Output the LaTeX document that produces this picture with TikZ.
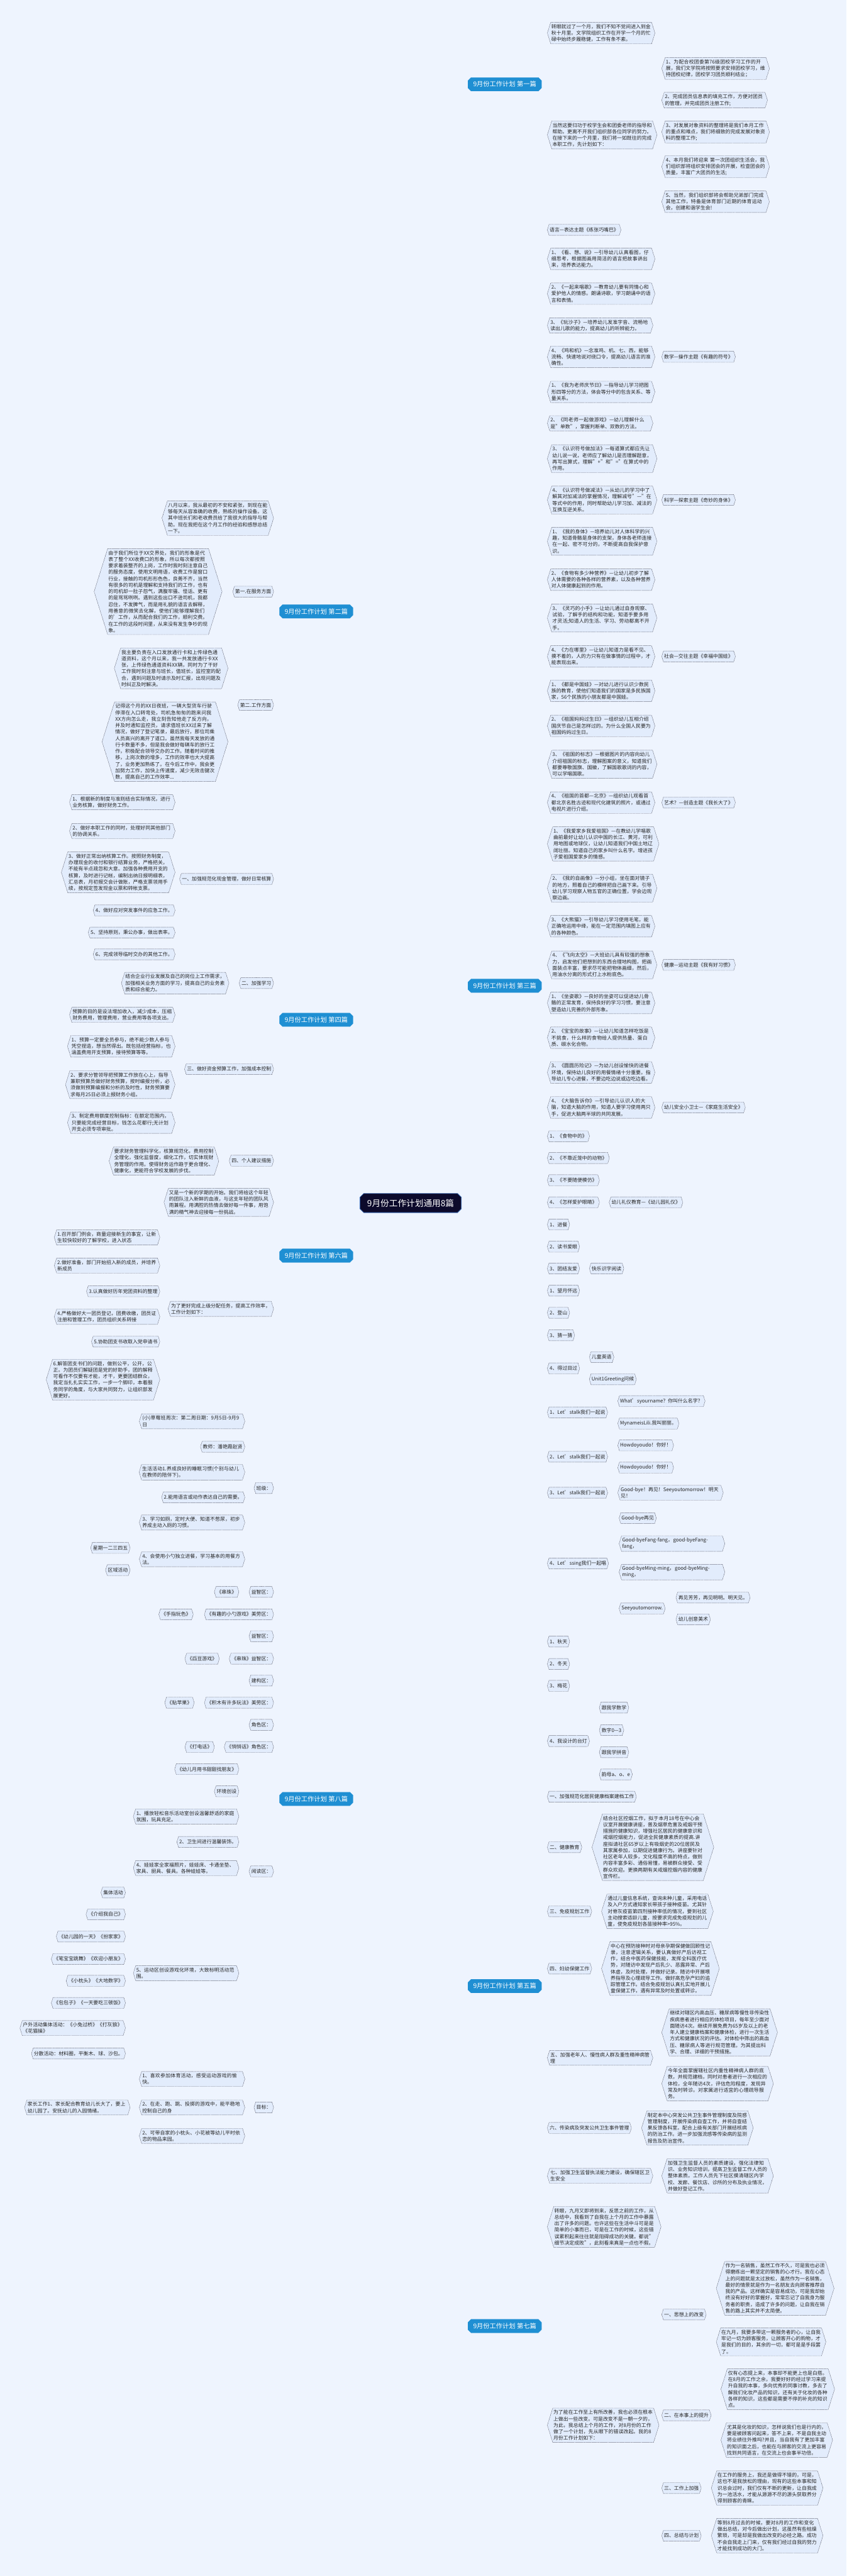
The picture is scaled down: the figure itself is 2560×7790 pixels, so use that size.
\documentclass[tikz,border=0pt]{standalone}
\usepackage{fontspec}
\setmainfont{Noto Sans CJK SC}
\usepackage{xcolor}
\definecolor{bgc}{HTML}{EEF4FE}
\definecolor{leafFill}{HTML}{E2ECFC}
\definecolor{leafLine}{HTML}{404050}
\definecolor{wireC}{HTML}{14122C}
\definecolor{partBlue}{HTML}{1F8FD3}
\definecolor{hubNavy}{HTML}{0C0A2B}
\definecolor{hubEdge}{HTML}{3F6FB8}
\usepackage{tikz}
\usetikzlibrary{%
    shapes.symbols,
    shapes.misc,
    backgrounds
}
\XeTeXlinebreaklocale "zh"
\XeTeXlinebreakskip=0pt plus 1pt
\newcommand\fanR[3]{\foreach \c in {#3}{\draw[#1] (#2.east) -- ++(14,0) -- (\c.west);}}
\newcommand\fanL[3]{\foreach \c in {#3}{\draw[#1] (#2.west) -- ++(-14,0) -- (\c.east);}}

\begin{document}
\begin{tikzpicture}[x=1pt, y=-1pt,
                leaf/.style={shape=signal, signal to=east and west, signal pointer angle=145, draw=leafLine, densely dotted, line width=0.8pt, fill=leafFill, text=black!85, font=\fontsize{15}{19.5}\selectfont, inner xsep=2pt, inner ysep=6pt, minimum height=33pt},
                para/.style={leaf, text width=301pt, align=left},
                part/.style={chamfered rectangle, chamfered rectangle xsep=6pt, fill=partBlue, draw=partBlue, text=white, font=\fontsize{19.5}{22}\selectfont, inner xsep=10pt, minimum height=41pt},
                hub/.style={chamfered rectangle, chamfered rectangle xsep=8pt, fill=hubNavy, draw=hubEdge, line width=1.5pt, text=white, font=\fontsize{26}{30}\selectfont, inner xsep=14pt, minimum height=58pt},
                R/.style={anchor=west},
                L/.style={anchor=east},
                trunk/.style={draw=hubNavy, line width=5pt},
                wire/.style={draw=wireC, line width=2.6pt},
                twig/.style={draw=wireC, line width=2pt}
            ]
            \fill[bgc] (0,0) rectangle (2560,7790);
            \useasboundingbox (0,0) rectangle (2560,7790);

            \node (hub) [hub] at (1242,3638) {9月份工作计划通用8篇};

            % right side
            \node (p1) [part, R] at (1415,255) {9月份工作计划 第一篇};
            \node (p3) [part, R] at (1415,2981) {9月份工作计划 第三篇};
            \node (p5) [part, R] at (1415,6006) {9月份工作计划 第五篇};
            \node (p7) [part, R] at (1415,7034) {9月份工作计划 第七篇};

            \node (a1) [para, R] at (1655,100) {转眼就过了一个月，我们不知不觉间进入到金秋十月里。文学院组织工作在开学一个月的忙碌中始终步履稳健，工作有条不紊。};
            \node (a2) [para, R] at (1655,408) {当然这要归功于校学生会和团委老师的指导和帮助。更离不开我们组织部各位同学的努力。在接下来的一个月里，我们将一如既往的完成本职工作，先计划如下：};
            \node (a2a) [para, R] at (2001,207) {1、为配合校团委第76级团校学习工作的开展，我们文学院将按照要求安排团校学习，维持团校纪律，团校学习团员顺利结业；};
            \node (a2b) [para, R] at (2001,303) {2、完成团员信息表的填充工作，方便对团员的管理，并完成团员注册工作;};
            \node (a2c) [para, R] at (2001,399) {3、对发展对象资料的整理将是我们本月工作的重点和难点，我们将细致的完成发展对象资料的整理工作;};
            \node (a2d) [para, R] at (2001,504) {4、本月我们将迎来 第一次团组织生活会，我们组织部将组织安排团会的开展，检查团会的质量，丰富广大团员的生活;};
            \node (a2e) [para, R] at (2001,610) {5、当然，我们组织部将会帮助兄弟部门完成其他工作，特备是体育部门近期的体育运动会，创建和谐学生会!};

            \node (t1) [leaf, R] at (1655,695) {语言—表达主题《练张巧嘴巴》};
            \node (t2) [para, R] at (1655,783) {1、《看、想、说》—引导幼儿认真看图，仔细思考，根据图画用简洁的语言把故事讲出来，培养表达能力。};
            \node (t3) [para, R] at (1655,888) {2、《一起来唱歌》—教育幼儿要有同情心和爱护他人的情感。朗诵诗歌，学习朗诵中的语言和表情。};
            \node (t4) [para, R] at (1655,984) {3、《玩沙子》—培养幼儿发准字音、流畅地读出儿歌的能力，提高幼儿的听辨能力。};
            \node (t5) [para, R] at (1655,1079) {4、《鸡和机》—念准鸡、机、七、西，能够流畅、快速地说对绕口令，提高幼儿语言的准确性。};
            \node (t5c) [leaf, R] at (2001,1079) {数学—操作主题《有趣的符号》};
            \node (t6) [para, R] at (1655,1185) {1、《我为老师庆节日》—指导幼儿学习把图形四等分的方法，体会等分中的包含关系、等量关系。};
            \node (t7) [para, R] at (1655,1280) {2、《同老师一起做游戏》—幼儿理解什么是"单数"，掌握判断单、双数的方法。};
            \node (t8) [para, R] at (1655,1387) {3、《认识符号做加法》—每道算式都应先让幼儿说一说，老师应了解幼儿是否理解题意，再写出算式，理解"+"和"="在算式中的作用。};
            \node (t9) [para, R] at (1655,1512) {4、《认识符号做减法》—从幼儿的学习中了解其对加减法的掌握情况，理解减号"—"在等式中的作用，同时帮助幼儿学习加、减法的互换互逆关系。};
            \node (t9c) [leaf, R] at (2001,1512) {科学—探索主题《奇妙的身体》};
            \node (t10) [para, R] at (1655,1637) {1、《我的身体》—培养幼儿对人体科学的兴趣，知道骨骼是身体的支架，身体各老师连接在一起、密不可分的，不断提高自我保护意识。};
            \node (t11) [para, R] at (1655,1753) {2、《食物有多少种营养》—让幼儿初步了解人体需要的各种各样的营养素，以及各种营养对人体健康起到的作用。};
            \node (t12) [para, R] at (1655,1869) {3、《灵巧的小手》—让幼儿通过自身观察、试验，了解手的结构和功能，知道手要多用才灵活;知道人的生活、学习、劳动都离不开手。};
            \node (t13) [para, R] at (1655,1985) {4、《力在哪里》—让幼儿知道力是看不见、摸不着的，人的力只有在做事情的过程中，才能表现出来。};
            \node (t13c) [leaf, R] at (2001,1985) {社会—交往主题《幸福中国娃》};
            \node (t14) [para, R] at (1655,2089) {1、《都是中国娃》—对幼儿进行认识少数民族的教育，使他们知道我们的国家是多民族国家，56个民族的小朋友都是中国娃。};
            \node (t15) [para, R] at (1655,2195) {2、《祖国妈妈过生日》—组织幼儿互相介绍国庆节自己是怎样过的。为什么全国人民要为祖国妈妈过生日。};
            \node (t16) [para, R] at (1655,2311) {3、《祖国的标志》—根据图片的内容向幼儿介绍祖国的标志，理解图案的意义，知道我们都要尊敬国旗、国徽，了解国歌歌词的内容，可以学唱国歌。};
            \node (t17) [para, R] at (1655,2427) {4、《祖国的首都—北京》—组织幼儿观看首都北京名胜古迹和现代化建筑的照片，或通过电视片进行介绍。};
            \node (t17c) [leaf, R] at (2001,2427) {艺术？—创造主题《我长大了》};
            \node (t18) [para, R] at (1655,2552) {1、《我爱家乡我爱祖国》—在教幼儿学唱歌曲前最好让幼儿认识中国的长江、黄河，可利用地图或地球仪，让幼儿知道我们中国土地辽阔壮丽。知道自己的家乡叫什么名字。增进孩子爱祖国爱家乡的情感。};
            \node (t19) [para, R] at (1655,2686) {2、《我的自画像》—分小组，坐在面对镜子的地方，照着自己的模样把自己画下来。引导幼儿学习观察人物五官的正确位置，学会边观察边画。};
            \node (t20) [para, R] at (1655,2801) {3、《大熊猫》—引导幼儿学习使用毛笔，能正确地运用中绛，能在一定范围内填图上应有的各种颜色。};
            \node (t21) [para, R] at (1655,2918) {4、《飞向太空》—大班幼儿具有较强的想象力，启发他们把想到的东西合理地构图，把画面装点丰富，要求尽可能把物体画细，然后，用油水分离的形式打上水粉底色。};
            \node (t21c) [leaf, R] at (2001,2918) {健康—运动主题《我有好习惯》};
            \node (t22) [para, R] at (1655,3033) {1、《坐姿歌》—良好的坐姿可以促进幼儿骨骼的正常发育，保持良好的学习习惯，要注意塑造幼儿完善的外部形象。};
            \node (t23) [para, R] at (1655,3138) {2、《宝宝的故事》—让幼儿知道怎样吃饭是不挑食，什么样的食物给人提供热量、蛋白质、碳水化合物。};
            \node (t24) [para, R] at (1655,3243) {3、《圆圆历险记》—为幼儿创设愉快的进餐环境，保持幼儿良好的用餐情绪十分重要。指导幼儿专心进餐，不要边吃边说或边吃边看。};
            \node (t25) [para, R] at (1655,3349) {4、《大脑告诉你》—引导幼儿认识人的大脑，知道大脑的作用，知道人要学习使用两只手，促进大脑两半球的共同发展。};
            \node (t25c) [leaf, R] at (2001,3349) {幼儿安全小卫士—《家庭生活安全》};
            \node (t26) [leaf, R] at (1655,3436) {1、《食物中的》};
            \node (t27) [leaf, R] at (1655,3502) {2、《不靠近笼中的动物》};
            \node (t28) [leaf, R] at (1655,3569) {3、《不要随便模仿》};
            \node (t29) [leaf, R] at (1655,3636) {4、《怎样爱护眼睛》};
            \node (t29c) [leaf, R] at (1842,3636) {幼儿礼仪教育—《幼儿园礼仪》};
            \node (t30) [leaf, R] at (1655,3703) {1、进餐};
            \node (t31) [leaf, R] at (1655,3770) {2、读书爱眼};
            \node (t32) [leaf, R] at (1655,3836) {3、团结友爱};
            \node (t32c) [leaf, R] at (1782,3836) {快乐识字阅读};
            \node (t33) [leaf, R] at (1655,3903) {1、望月怀远};
            \node (t34) [leaf, R] at (1655,3970) {2、登山};
            \node (t35) [leaf, R] at (1655,4038) {3、猜一猜};
            \node (t36) [leaf, R] at (1655,4138) {4、得过目过};
            \node (t36a) [leaf, R] at (1782,4104) {儿童英语};
            \node (t36b) [leaf, R] at (1782,4171) {Unit1Greeting问候};
            \node (t37) [leaf, R] at (1655,4271) {1、Let’stalk我们一起说};
            \node (t37a) [leaf, R] at (1868,4237) {What’syourname？你叫什么名字？};
            \node (t37b) [leaf, R] at (1868,4305) {MynameisLili.我叫丽丽。};
            \node (t38) [leaf, R] at (1655,4405) {2、Let’stalk我们一起说};
            \node (t38a) [leaf, R] at (1868,4371) {Howdoyoudo！你好！};
            \node (t38b) [leaf, R] at (1868,4438) {Howdoyoudo！你好！};
            \node (t39) [leaf, R] at (1655,4514) {3、Let’stalk我们一起说};
            \node (t39a) [para, R] at (1868,4514) {Good-bye！再见！Seeyoutomorrow！明天见！};
            \node (t40) [leaf, R] at (1655,4728) {4、Let’ssing我们一起唱};
            \node (t40a) [leaf, R] at (1872,4591) {Good-bye再见};
            \node (t40b) [para, R] at (1872,4668) {Good-byeFang-fang，good-byeFang-fang，};
            \node (t40c) [para, R] at (1872,4754) {Good-byeMing-ming，good-byeMing-ming，};
            \node (t40d) [leaf, R] at (1872,4864) {Seeyoutomorrow.};
            \node (t40da) [leaf, R] at (2044,4831) {再见芳芳，再见明明。明天见。};
            \node (t40db) [leaf, R] at (2044,4897) {幼儿创意美术};
            \node (t41) [leaf, R] at (1655,4964) {1、秋天};
            \node (t42) [leaf, R] at (1655,5032) {2、冬天};
            \node (t43) [leaf, R] at (1655,5098) {3、梅花};
            \node (t44) [leaf, R] at (1655,5265) {4、我设计的台灯};
            \node (t44a) [leaf, R] at (1812,5164) {跟我学数学};
            \node (t44b) [leaf, R] at (1812,5232) {数字0—3};
            \node (t44c) [leaf, R] at (1812,5299) {跟我学拼音};
            \node (t44d) [leaf, R] at (1812,5366) {韵母a、o、e};

            \node (f1) [leaf, R] at (1655,5433) {一、加强规范化居民健康档案建档工作};
            \node (f2) [leaf, R] at (1655,5586) {二、健康教育};
            \node (f2a) [para, R] at (1790,5586) {结合社区控烟工作，拟于本月18号在中心会议室开展健康讲座，普及烟草危害及戒烟干预措施的健康知识，增强社区居民的健康意识和戒烟控烟能力，促进全民健康素质的提高.讲座拟请社区65岁以上有吸烟史的20位居民及其家属参加，以期促进健康行为。讲座要针对社区老年人较多，文化程度不高的特点，做到内容丰富多彩、通俗易懂，易被群众接受、受群众欢迎。更换两期有关戒烟控烟内容的健康宣传栏。};
            \node (f3) [leaf, R] at (1655,5780) {三、免疫规划工作};
            \node (f3a) [para, R] at (1819,5780) {通过儿童信息系统，查询未种儿童，采用电话及入户方式通知家长带孩子接种疫苗。尤其针对脊灰疫苗第四剂接种率低的情况，要到社区主动搜索适龄儿童，按要求完成免疫规划的儿童，使免疫规划各苗接种率>95\%。};
            \node (f4) [leaf, R] at (1655,5953) {四、妇幼保健工作};
            \node (f4a) [para, R] at (1819,5953) {中心在预防接种时对母亲孕期保健做回顾性记录，注意逻辑关系，要认真做好产后访视工作，结合中医药保健技能，发挥全科医疗优势，对随访中发现产后乳少、恶露异常、产后体虚，及时处理，并做好记录。随访中开展喂养指导及心理疏导工作。做好高危孕产妇的追踪管理工作。结合免疫规划认真扎实地开展儿童保健工作，遇有异常及时处置或转诊。};
            \node (f5) [para, R] at (1655,6223) {五、加强老年人、慢性病人群及重性精神病管理};
            \node (f5a) [para, R] at (2001,6146) {继续对辖区内高血压、糖尿病等慢性非传染性疾病患者进行相应的体检项目，每年至少面对面随访4次。继续开展免费为65岁及以上的老年人建立健康档案和健康体检，进行一次生活方式和健康状况的评估。对体检中筛出的高血压、糖尿病人等进行规范管理。为其提出科学、合理、详细的干预措施。};
            \node (f5b) [para, R] at (2001,6301) {今年全面掌握辖社区内重性精神病人群的底数，并规范建档，同时对患者进行一次相应的体检，全年随访4次，评估危险程度，发现异常及时转诊。对家属进行适宜的心理疏导服务。};
            \node (f6) [leaf, R] at (1655,6435) {六、传染病及突发公共卫生事件管理};
            \node (f6a) [para, R] at (1940,6435) {制定本中心突发公共卫生事件管理制度及院感管理制度，开展传染病自查工作，并将自查结果反馈各科室。配合上级有关部门开展结核病的防治工作。进一步加强流感等传染病的监测报告及防治宣传。};
            \node (f7) [para, R] at (1655,6580) {七、加强卫生监督执法能力建设，确保辖区卫生安全};
            \node (f7a) [para, R] at (2001,6580) {加强卫生监督人员的素质建设，强化法律知识、业务知识培训，提高卫生监督工作人员的整体素质。工作人员先下社区摸清辖区内学校、发廊、餐饮店、诊所的分布及执业情况，并做好登记工作。};

            \node (s1) [para, R] at (1655,6734) {转眼，九月又即将到来，反思之前的工作，从总结中，我看到了自我在上个月的工作中暴露出了许多的问题。也许这些在生活中斗可是是简单的小事而已，可是在工作的时候，这些错误累积起来往往就是阻碍成功的关键。都说"细节决定成败"，此刻看来真是一点也不假。};
            \node (s2) [para, R] at (1655,7334) {为了能在工作至上有所改善，我也必须在根本上做出一些改变。可是改变不是一朝一夕的，为此，我总结上个月的工作，对8月份的工作做了一个计划，先从眼下的错误改起。我的8月份工作计划如下：};
            \node (s2a) [leaf, R] at (2001,6999) {一、思想上的改变};
            \node (s2aa) [para, R] at (2166,6920) {作为一名销售，虽然工作不久，可是我也必须得磨练出一颗坚定的销售的心才行。我在心态上的问题就是太过放松，虽然作为一名销售，最好的情景就是作为一名朋友去向顾客推荐自我的产品。这样确实是容易成功，可是我却始终没有好好的掌握好，常常忘记了自我身为服务者的职责，造成了许多的问题，让自我在销售的路上其实并不太简便。};
            \node (s2ab) [para, R] at (2166,7082) {在九月，我要多带这一颗服务者的心，让自我牢记一切为顾客服务，让顾客开心的购物，才是我们的目的，其余的一切，都可是是手段罢了。};
            \node (s2b) [leaf, R] at (2001,7304) {二、在本事上的提升};
            \node (s2ba) [para, R] at (2180,7225) {仅有心态提上来，本事却不能更上也是白搭。在8月的工作之余，我要好好的经过学习来提升自我的本事，多向优秀的同事讨教，多去了解我们化妆产品的知识，还有关于化妆的各种各样的知识，这些都是需要不停的补充的知识点。};
            \node (s2bb) [para, R] at (2180,7379) {尤其是化妆的知识，怎样说我们也是行内的，要是被顾客问起来，答不上来，不是自我主动将业绩往外推吗?并且，当自我有了更加丰富的知识面之后，也能在与顾客的交流上更容易找到共同语言，在交流上也会事半功倍。};
            \node (s2c) [leaf, R] at (2001,7524) {三、工作上加强};
            \node (s2ca) [para, R] at (2151,7524) {在工作的服务上，我还是做得不错的，可是，这也不是我放松的理由，现有的这些本事和知识总会过时，我们仅有不断的更新，让自我成为一池活水，才能从源源不尽的源头获取养分得到顾客的青睐。};
            \node (s2d) [leaf, R] at (2001,7668) {四、总结与计划};
            \node (s2da) [para, R] at (2151,7668) {等到8月过去的时候，要对8月的工作和变化做出总结，对今后做出计划，这虽然有些枯燥繁琐，可是却是我做出改变的必经之路。成功不会自我走上门来，仅有我们经过自我的努力才能找到成功的大门。};

            % left side
            \node (p2) [part, L] at (1068,1849) {9月份工作计划 第二篇};
            \node (p4) [part, L] at (1068,3084) {9月份工作计划 第四篇};
            \node (p6) [part, L] at (1068,3797) {9月份工作计划 第六篇};
            \node (p8) [part, L] at (1068,5440) {9月份工作计划 第八篇};

            \node (b1) [para, L] at (828,1567) {八月以来，我从最初的不安和紧张，到现在能够每天从容准确的收费，熟练的操作设备。这其中班长们和老收费员给了我很大的指导与帮助。现在我把在这个月工作的经验和感想总结一下。};
            \node (b2) [leaf, L] at (828,1789) {第一.在服务方面};
            \node (b2a) [para, L] at (672,1789) {由于我们所位于XX交界处，我们的形象是代表了整个XX收费口的形象，所以每次都按照要求着装整齐的上岗，工作时我时刻注意自己的服务态度，使用文明用语，收费工作是窗口行业，接触的司机形形色色，良莠不齐，当然有很多的司机是理解和支持我们的工作，也有的司机却一肚子怨气，满腹牢骚、怪话、更有的是骂骂咧咧。遇到这些出口不逊司机，我都忍住，不发脾气，而是用礼貌的语言去解释，用善意的微笑去化解，使他们能够理解我们的'工作，从而配合我们的工作，顺利交费。在工作的这段时间里，从来没有发生争吵的现象。};
            \node (b3) [leaf, L] at (828,2132) {第二.工作方面};
            \node (b3a) [para, L] at (690,2021) {我主要负责在入口发放通行卡和上传绿色通道资料，这个月以来，我一共发放通行卡XX张，上传绿色通道资料XX辆，同时为了干好工作我时刻注意与班长，值班长，监控室的配合，遇到问题及时请示及时汇报，出现问题及时纠正及时解决。};
            \node (b3b) [para, L] at (690,2243) {记得这个月的XX日夜班，一辆大型货车行驶停滞在入口转弯处，司机急匆匆的跑来问我XX方向怎么走，我立刻告知他走了反方向，并及时通知监控员，请求值班长XX过来了解情况，做好了登记笔录，最后放行，那位司乘人员高兴的离开了道口。虽然我每天发放的通行卡数量不多，但是我会做好每辆车的放行工作，积极配合领导交办的工作。随着时间的推移，上岗次数的增多，工作的效率也大大提高了，业务更加熟练了。在今后工作中，我会更加努力工作，加快上传速度，减少无效击键次数，提高自己的工作效率...};

            \node (d1) [leaf, L] at (828,2658) {一、加强规范化现金管理，做好日常核算};
            \node (d1a) [para, L] at (530,2426) {1、根据新的制度与准则结合实际情况，进行业务核算，做好财务工作。};
            \node (d1b) [para, L] at (530,2513) {2、做好本职工作的同时，处理好同其他部门的协调关系。};
            \node (d1c) [para, L] at (530,2638) {3、做好正常出纳核算工作。按照财务制度，办理现金的收付和银行结算业务，严格把关，不能有半点疏忽和大意。加强各种费用开支的核算，及时进行记帐，编制出纳日报明细表，汇总表，月初报交会计做账，严格支票领用手续，按规定签发现金以票和转帐支票。};
            \node (d1d) [leaf, L] at (530,2753) {4、做好应对突发事件的应急工作。};
            \node (d1e) [leaf, L] at (530,2820) {5、坚持原则，秉公办事，做出表率。};
            \node (d1f) [leaf, L] at (530,2886) {6、完成领导临时交办的其他工作。};
            \node (d2) [leaf, L] at (828,2973) {二、加强学习};
            \node (d2a) [para, L] at (693,2973) {结合企业行业发展及自己的岗位上工作需求，加强相关业务方面的学习，提高自己的业务素质和综合能力。};
            \node (d3) [leaf, L] at (828,3233) {三、做好资金预算工作，加强成本控制};
            \node (d3a) [para, L] at (530,3069) {预算的目的是设法增加收入，减少成本，压缩财务费用，管理费用，营业费用等各项支出。};
            \node (d3b) [para, L] at (530,3164) {1、预算一定要全员参与，绝不能少数人参与凭空捏造，想当然得出。既包括经营指标，也涵盖费用开支预算，接待预算等等。};
            \node (d3c) [para, L] at (530,3280) {2、要求分管领导把预算工作放在心上，指导兼职预算员做好财务预算，按时编报分析，必须做到预算编报和分析的及时性，财务预算要求每月25日必须上报财务小组。};
            \node (d3d) [para, L] at (530,3395) {3、制定费用额度控制指标：在额定范围内，只要能完成经营目标，钱怎么花都行;无计划开支必须专项审批。};
            \node (d4) [leaf, L] at (828,3510) {四、个人建议措施};
            \node (d4a) [para, L] at (662,3511) {要求财务管理科学化，核算规范化，费用控制全理化，强化监督度，细化工作，切实体现财务管理的作用。使得财务运作趋于更合理化、健康化，更能符合学校发展的步伐。};

            \node (h1) [para, L] at (828,3636) {又是一个新的学期的开始。我们将给这个年轻的团队注入新鲜的血液，与这支年轻的团队风雨兼程。用满腔的热情去做好每一件事，用饱满的精气神去迎接每一份挑战。};
            \node (h2) [para, L] at (828,3958) {为了更好完成上级分配任务，提高工作效率，工作计划如下：};
            \node (h2a) [para, L] at (484,3742) {1.召开部门例会，商量迎接新生的事宜，让新生较快较好的了解学校，进入状态};
            \node (h2b) [para, L] at (484,3827) {2.做好准备，部门开始招入新的成员，并培养新成员};
            \node (h2c) [leaf, L] at (484,3905) {3.认真做好历年党团资料的整理};
            \node (h2d) [para, L] at (484,3982) {4.严格做好大一团员登记，团费收缴，团员证注册和管理工作，团员组织关系转接};
            \node (h2e) [leaf, L] at (484,4057) {5.协助团支书收取入党申请书};
            \node (h2f) [para, L] at (484,4172) {6.解答团支书们的问题，做到公平，公开，公正。为团员们解疑团是党的好助手，团的解释可看作不仅要有才能，才干，更要团结群众，我定当扎扎实实工作，一步一个脚印，本着服务同学的角度，与大家共同努力，让组织部发展更好。};

            \node (e1) [leaf, L] at (828,4500) {班级：};
            \node (e1a) [para, L] at (741,4298) {(小)草莓班周次：第二周日期：9月5日-9月9日};
            \node (e1b) [leaf, L] at (741,4375) {教师：潘艳霞赵贤};
            \node (e1c) [para, L] at (741,4452) {生活活动1.养成良好的睡眠习惯(个别与幼儿在教师的陪伴下)。};
            \node (e1d) [leaf, L] at (741,4528) {2.能用语言或动作表达自己的需要。};
            \node (e1e) [para, L] at (741,4604) {3、学习如厕，定时大便、知道不憋尿，初步养成主动入厕的习惯。};
            \node (e1f) [para, L] at (741,4715) {4、会使用小勺独立进餐，学习基本的用餐方法。};
            \node (e1fa) [leaf, L] at (394,4681) {星期一二三四五};
            \node (e1fb) [leaf, L] at (394,4748) {区域活动};
            \node (e2) [leaf, L] at (828,4814) {益智区：};
            \node (e2a) [leaf, L] at (723,4814) {《串珠》};
            \node (e3) [leaf, L] at (828,4882) {《有趣的小勺游戏》美劳区：};
            \node (e3a) [leaf, L] at (585,4882) {《手指玩色》};
            \node (e4) [leaf, L] at (828,4948) {益智区：};
            \node (e5) [leaf, L] at (828,5016) {《串珠》益智区：};
            \node (e5a) [leaf, L] at (664,5016) {《舀豆游戏》};
            \node (e6) [leaf, L] at (828,5082) {建构区：};
            \node (e7) [leaf, L] at (828,5149) {《积木有许多玩法》美劳区：};
            \node (e7a) [leaf, L] at (588,5149) {《贴苹果》};
            \node (e8) [leaf, L] at (828,5216) {角色区：};
            \node (e9) [leaf, L] at (828,5283) {《悄悄话》角色区：};
            \node (e9a) [leaf, L] at (649,5283) {《打电话》};
            \node (e10) [leaf, L] at (828,5659) {阅读区：};
            \node (e10a) [leaf, L] at (723,5350) {《幼儿月用书甜甜找朋友》};
            \node (e10b) [leaf, L] at (723,5417) {环境创设};
            \node (e10c) [para, L] at (723,5493) {1、播放轻松音乐活动室创设温馨舒适的家庭氛围，玩具充足。};
            \node (e10d) [leaf, L] at (723,5570) {2、卫生间进行温馨装饰。};
            \node (e10e) [para, L] at (723,5649) {4、娃娃家全家福照片，娃娃床、卡通坐垫、家具、厨具、餐具。各种娃娃等。};
            \node (e10f) [para, L] at (723,5967) {5、运动区创设游戏化环境，大致标明活动范围。};
            \node (e10fa) [leaf, L] at (380,5723) {集体活动};
            \node (e10fb) [leaf, L] at (380,5789) {《介绍我自己》};
            \node (e10fc) [leaf, L] at (380,5856) {《幼儿园的一天》《扮家家》};
            \node (e10fd) [leaf, L] at (380,5924) {《笔宝宝跳舞》《欢迎小朋友》};
            \node (e10fe) [leaf, L] at (380,5990) {《小枕头》《大地数学》};
            \node (e10ff) [leaf, L] at (380,6057) {《包包子》《一天要吃三顿饭》};
            \node (e10fg) [para, L] at (380,6133) {户外活动集体活动：《小兔过桥》《打灰狼》《花猫操》};
            \node (e10fh) [leaf, L] at (380,6210) {分散活动：材料圈，平衡木、球、沙包。};
            \node (e11) [leaf, L] at (828,6373) {目标：};
            \node (e11a) [para, L] at (741,6287) {1、喜欢参加体育活动，感受运动游戏的愉快。};
            \node (e11b) [para, L] at (741,6373) {2、在走、跑、跳、投掷的游戏中，能平稳地控制自己的身};
            \node (e11ba) [para, L] at (394,6373) {家长工作1、家长配合教育幼儿长大了，要上幼儿园了。安抚幼儿的入园情绪。};
            \node (e11c) [para, L] at (741,6459) {2、可带自家的小枕头、小花被等幼儿平时依恋的物品来园。};

            \begin{scope}[on background layer]
                \foreach \p in {p1,p3,p5,p7} {\draw[trunk] (hub.east) -- ++(11,0) -- (\p.west);}
                \foreach \p in {p2,p4,p6,p8} {\draw[trunk] (hub.west) -- ++(-14,0) -- (\p.east);}

                \fanR{wire}{p1}{a1,a2}
                \fanR{twig}{a2}{a2a,a2b,a2c,a2d,a2e}
                \fanR{wire}{p3}{t1,t2,t3,t4,t5,t6,t7,t8,t9,t10,t11,t12,t13,t14,t15,t16,t17,t18,t19,t20,t21,t22,t23,t24,t25,t26,t27,t28,t29,t30,t31,t32,t33,t34,t35,t36,t37,t38,t39,t40,t41,t42,t43,t44}
                \fanR{twig}{t5}{t5c}
                \fanR{twig}{t9}{t9c}
                \fanR{twig}{t13}{t13c}
                \fanR{twig}{t17}{t17c}
                \fanR{twig}{t21}{t21c}
                \fanR{twig}{t25}{t25c}
                \fanR{twig}{t29}{t29c}
                \fanR{twig}{t32}{t32c}
                \fanR{twig}{t36}{t36a,t36b}
                \fanR{twig}{t37}{t37a,t37b}
                \fanR{twig}{t38}{t38a,t38b}
                \fanR{twig}{t39}{t39a}
                \fanR{twig}{t40}{t40a,t40b,t40c,t40d}
                \fanR{twig}{t40d}{t40da,t40db}
                \fanR{twig}{t44}{t44a,t44b,t44c,t44d}
                \fanR{wire}{p5}{f1,f2,f3,f4,f5,f6,f7}
                \fanR{twig}{f2}{f2a}
                \fanR{twig}{f3}{f3a}
                \fanR{twig}{f4}{f4a}
                \fanR{twig}{f5}{f5a,f5b}
                \fanR{twig}{f6}{f6a}
                \fanR{twig}{f7}{f7a}
                \fanR{wire}{p7}{s1,s2}
                \fanR{twig}{s2}{s2a,s2b,s2c,s2d}
                \fanR{twig}{s2a}{s2aa,s2ab}
                \fanR{twig}{s2b}{s2ba,s2bb}
                \fanR{twig}{s2c}{s2ca}
                \fanR{twig}{s2d}{s2da}

                \fanL{wire}{p2}{b1,b2,b3}
                \fanL{twig}{b2}{b2a}
                \fanL{twig}{b3}{b3a,b3b}
                \fanL{wire}{p4}{d1,d2,d3,d4}
                \fanL{twig}{d1}{d1a,d1b,d1c,d1d,d1e,d1f}
                \fanL{twig}{d2}{d2a}
                \fanL{twig}{d3}{d3a,d3b,d3c,d3d}
                \fanL{twig}{d4}{d4a}
                \fanL{wire}{p6}{h1,h2}
                \fanL{twig}{h2}{h2a,h2b,h2c,h2d,h2e,h2f}
                \fanL{wire}{p8}{e1,e2,e3,e4,e5,e6,e7,e8,e9,e10,e11}
                \fanL{twig}{e1}{e1a,e1b,e1c,e1d,e1e,e1f}
                \fanL{twig}{e1f}{e1fa,e1fb}
                \fanL{twig}{e2}{e2a}
                \fanL{twig}{e3}{e3a}
                \fanL{twig}{e5}{e5a}
                \fanL{twig}{e7}{e7a}
                \fanL{twig}{e9}{e9a}
                \fanL{twig}{e10}{e10a,e10b,e10c,e10d,e10e,e10f}
                \fanL{twig}{e10f}{e10fa,e10fb,e10fc,e10fd,e10fe,e10ff,e10fg,e10fh}
                \fanL{twig}{e11}{e11a,e11b,e11c}
                \fanL{twig}{e11b}{e11ba}
            \end{scope}
        \end{tikzpicture}
\end{document}
